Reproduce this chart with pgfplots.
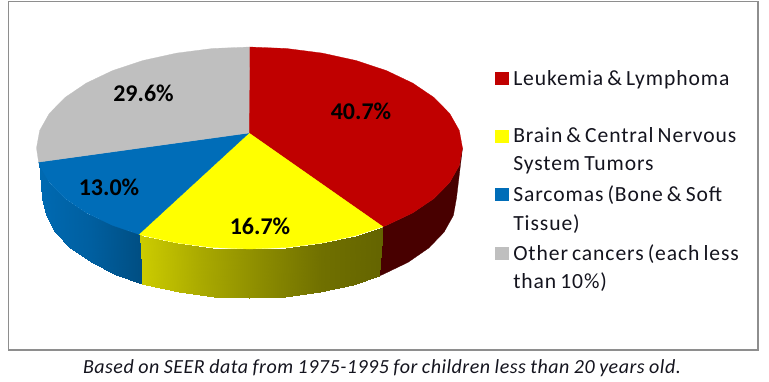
\documentclass[border=0pt]{standalone}
\usepackage{fontspec}
\usepackage{pgfplots}
\pgfplotsset{compat=1.18}
\setmainfont{Carlito}
\newfontfamily\legfont[LetterSpace=4.2,WordSpace=0.7]{Carlito}
\newfontfamily\capfont[LetterSpace=2.5,WordSpace=0.9]{Carlito}
\definecolor{cRed}{RGB}{192,0,0}
\definecolor{cYel}{RGB}{255,255,0}
\definecolor{cBlu}{RGB}{0,109,184}
\definecolor{cGry}{RGB}{191,191,191}
\definecolor{cRedS}{RGB}{72,0,0}
\definecolor{cFrame}{RGB}{142,142,142}
\definecolor{cTxt}{RGB}{20,20,30}
\pgfplotsset{
  colormap={yelside}{rgb255=(205,205,0) rgb255=(170,170,0) rgb255=(140,140,0) rgb255=(112,112,0) rgb255=(100,100,0)},
  colormap={bluside}{rgb255=(0,106,178) rgb255=(0,95,160) rgb255=(0,78,130)},
}
\newcommand{\leg}[1]{\legfont\fontsize{16.2}{18}\selectfont #1}
\begin{document}
\begin{tikzpicture}
\begin{axis}[
  scale only axis, width=576.75pt, height=286.5pt,
  xmin=0, xmax=769, ymin=0, ymax=382, y dir=reverse,
  hide axis, clip=false,
]
% page extent
\addplot[draw=white, line width=0pt, forget plot] coordinates {(0,0) (769,382)};
% frame
\addplot[draw=cFrame, line width=1.1pt, forget plot] coordinates {(8.5,1.5) (758,1.5) (758,350) (8.5,350) (8.5,1.5)};
% side faces
\addplot[fill=cRedS, draw=cRedS, line width=0.2pt, forget plot] coordinates {
 (462.5,148) (459.3,165.5) (449.7,182.5) (434,198.5) (412.7,212.9) (386.4,225.4) (382.9,226.7)
 (379.1,276) (382.6,274.6) (408.1,262.3) (428.8,248) (444,232.2) (453.4,215.4) (456.5,198)} -- cycle;
\addplot[surf, shader=interp, mesh/rows=2, point meta=x, point meta rel=per plot, colormap name=yelside, forget plot] coordinates {
 (138.8,234.3) (143,235.5) (176.7,242.9) (212.5,247.5) (249.5,249) (286.5,247.5) (322.3,242.9) (356,235.5) (382.9,226.7)
 (142,283.5) (146,284.6) (178.7,292) (213.6,296.5) (249.5,298) (285.4,296.5) (320.3,292) (353,284.6) (379.1,276)};
\addplot[surf, shader=interp, mesh/rows=2, point meta=x, point meta rel=per plot, colormap name=bluside, forget plot] coordinates {
 (38.6,162.1) (39.7,165.5) (49.3,182.5) (65,198.5) (86.3,212.9) (112.6,225.4) (138.8,234.3)
 (42.5,198) (45.6,215.4) (55,232.2) (70.2,248) (90.9,262.3) (116.4,274.6) (142,283.5)};
% top faces
\addplot[fill=cRed, draw=cRed, line width=0.2pt, forget plot] coordinates {
 (249,133) (249.5,47) (286.5,48.5) (322.3,53.1) (356,60.5) (386.4,70.6) (412.7,83.1) (434,97.5) (449.7,113.5) (459.3,130.5) (462.5,148)
 (459.3,165.5) (449.7,182.5) (434,198.5) (412.7,212.9) (386.4,225.4) (382.9,226.7)} -- cycle;
\addplot[fill=cYel, draw=cYel, line width=0.2pt, forget plot] coordinates {
 (249,133) (382.9,226.7) (356,235.5) (322.3,242.9) (286.5,247.5) (249.5,249) (212.5,247.5) (176.7,242.9) (143,235.5) (138.8,234.3)} -- cycle;
\addplot[fill=cBlu, draw=cBlu, line width=0.2pt, forget plot] coordinates {
 (249,133) (138.8,234.3) (112.6,225.4) (86.3,212.9) (65,198.5) (49.3,182.5) (39.7,165.5) (38.6,162.1)} -- cycle;
\addplot[fill=cGry, draw=cGry, line width=0.2pt, forget plot] coordinates {
 (249,133) (38.6,162.1) (36.5,148) (39.7,130.5) (49.3,113.5) (65,97.5) (86.3,83.1) (112.6,70.6) (143,60.5) (176.7,53.1) (212.5,48.5) (249.5,47)} -- cycle;
% slice labels
\node[font=\fontsize{18}{20}\selectfont\bfseries, text=black] at (axis cs:361,111) {40.7\%};
\node[font=\fontsize{18}{20}\selectfont\bfseries, text=black] at (axis cs:260,226) {16.7\%};
\node[font=\fontsize{18}{20}\selectfont\bfseries, text=black] at (axis cs:109,187) {13.0\%};
\node[font=\fontsize{18}{20}\selectfont\bfseries, text=black] at (axis cs:143.5,93) {29.6\%};
% legend swatches
\addplot[only marks, mark=square*, mark size=4.6pt, mark options={fill=cRed, draw=cRed}, forget plot] coordinates {(501.7,78.3)};
\addplot[only marks, mark=square*, mark size=4.6pt, mark options={fill=cYel, draw=cYel}, forget plot] coordinates {(501.7,136)};
\addplot[only marks, mark=square*, mark size=4.6pt, mark options={fill=cBlu, draw=cBlu}, forget plot] coordinates {(501.7,194.3)};
\addplot[only marks, mark=square*, mark size=4.6pt, mark options={fill=cGry, draw=cGry}, forget plot] coordinates {(501.7,253)};
% legend text
\node[anchor=base west, inner sep=0pt, text=cTxt] at (axis cs:513,85) {\leg{Leukemia \& Lymphoma}};
\node[anchor=base west, inner sep=0pt, text=cTxt] at (axis cs:513,142.7) {\leg{Brain \& Central Nervous}};
\node[anchor=base west, inner sep=0pt, text=cTxt] at (axis cs:513,170.7) {\leg{System Tumors}};
\node[anchor=base west, inner sep=0pt, text=cTxt] at (axis cs:513,201.7) {\leg{Sarcomas (Bone \& Soft}};
\node[anchor=base west, inner sep=0pt, text=cTxt] at (axis cs:513,230) {\leg{Tissue)}};
\node[anchor=base west, inner sep=0pt, text=cTxt] at (axis cs:513,260) {\leg{Other cancers (each less}};
\node[anchor=base west, inner sep=0pt, text=cTxt] at (axis cs:513,288) {\leg{than 10\%)}};
% caption
\node[anchor=base, inner sep=0pt, text=cTxt] at (axis cs:382,373.5) {\capfont\fontsize{15}{17}\selectfont\itshape Based on SEER data from 1975-1995 for children less than 20 years old.};
\end{axis}
\end{tikzpicture}
\end{document}
